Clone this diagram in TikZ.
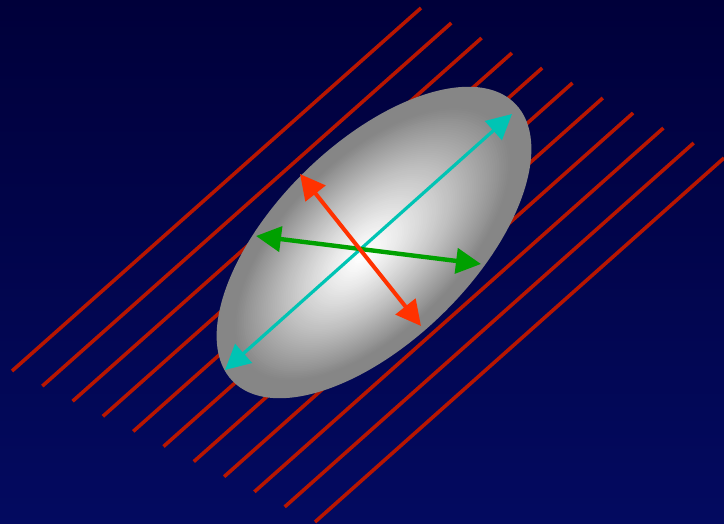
\documentclass[tikz,border=0pt]{standalone}
\usetikzlibrary{arrows.meta}
\definecolor{bgtop}{RGB}{0,0,58}
\definecolor{bgbot}{RGB}{3,10,96}
\definecolor{linered}{RGB}{184,22,0}
\definecolor{ellgray}{RGB}{134,134,134}
\definecolor{axcyan}{RGB}{0,196,180}
\definecolor{axgreen}{RGB}{0,160,0}
\definecolor{axred}{RGB}{255,50,0}
\tikzset{
  hatchline/.style={linered, line width=3.6pt},
  axisarrow/.style={{Triangle[length=25pt,width=25pt]}-{Triangle[length=25pt,width=25pt]}},
}
\begin{document}
\begin{tikzpicture}[x=1pt,y=-1pt]
\useasboundingbox (0,0) rectangle (724,524);
\shade[top color=bgtop, bottom color=bgbot] (0,0) rectangle (724,524);
\begin{scope}
  \clip (0,0) rectangle (724,524);
  \foreach \i in {0,...,10}
    \draw[hatchline] ({12+30.3*\i},{371+15.1*\i}) -- ({421+30.3*\i},{8+15*\i});
\end{scope}
% ellipse with elliptical radial glow
\foreach \i in {0,...,79}{
  \pgfmathsetmacro\r{1-\i/80}
  \pgfmathsetmacro\g{min(100,100*(\r/0.88)^1.25)}
  \fill[ellgray!\g!white, shift={({374-12*(1-\r)},{242.5+14*(1-\r)})}, rotate=44.5]
    (0,0) ellipse ({198*\r} and {99*\r});
}
\coordinate (cyanA) at (225,370);
\coordinate (cyanB) at (512,114);
\coordinate (greenA) at (256,236);
\coordinate (greenB) at (481,264);
\coordinate (redA) at (300,174);
\coordinate (redB) at (421,326);
\draw[axisarrow, axcyan, line width=3.2pt] (cyanA) -- (cyanB);
\draw[axisarrow, axgreen, line width=4.4pt] (greenA) -- (greenB);
\draw[axisarrow, axred, line width=4pt] (redA) -- (redB);
\end{tikzpicture}
\end{document}
